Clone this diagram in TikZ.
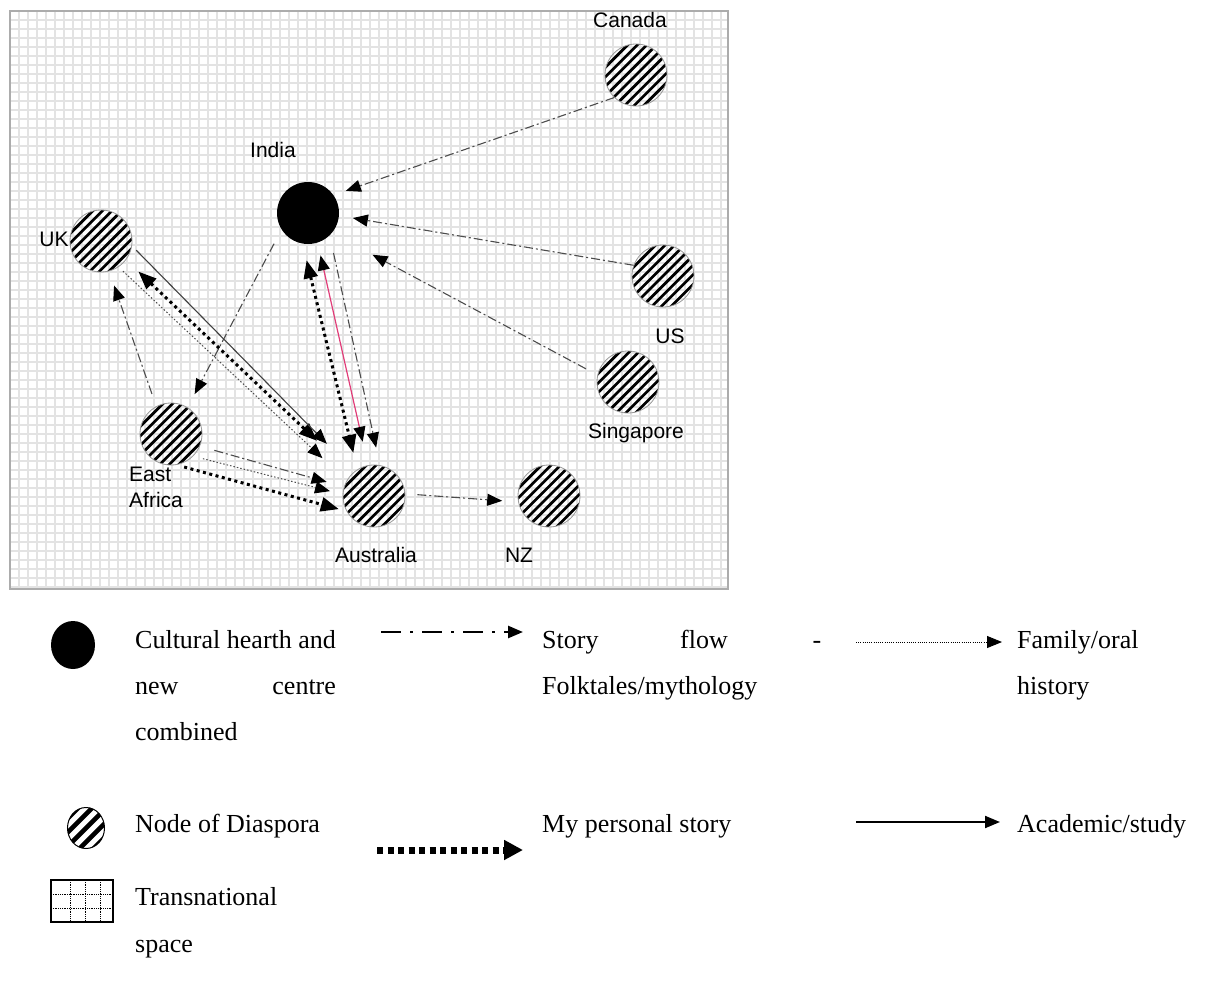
\documentclass[tikz,border=0pt]{standalone}
\usepackage{fontspec}
\usepackage{xcolor}
\usetikzlibrary{arrows.meta,shapes.geometric}
\newfontfamily\legfont{Liberation Serif}
\newfontfamily\lblfont{Liberation Sans}
\definecolor{gridgray}{gray}{0.89}
\definecolor{redlink}{RGB}{225,60,120}

\tikzset{
  stripes/.style 2 args={path picture={
    \foreach \s in {-6,...,6}
      \draw[black, line width=#2]
        ([shift={({\s*#1},0)}]path picture bounding box.center) ++(-45pt,-45pt) -- ++(90pt,90pt);}},
  diaspora/.style={circle, minimum size=62pt, inner sep=0pt, draw=gray!80, line width=0.8pt,
    stripes={9.6}{2.7pt}},
  hearth/.style={circle, minimum size=62pt, inner sep=0pt, fill=black},
  place/.style={font=\lblfont\fontsize{21}{26}\selectfont, inner sep=0pt},
  legtext/.style={font=\legfont\fontsize{26}{30}\selectfont, inner sep=0pt, anchor=base west},
  smalltip/.style={-{Triangle[length=15pt,width=12pt,color=black]}},
  story/.style={smalltip, black!70, line width=1.1pt, dash pattern=on 9pt off 3pt on 2pt off 3pt},
  family/.style={smalltip, black!70, line width=1pt, dash pattern=on 1.5pt off 2pt},
  personal/.style={{Triangle[length=18pt,width=14pt]}-{Triangle[length=18pt,width=14pt]},
    black, line width=3pt, dash pattern=on 3pt off 3.5pt},
  academic/.style={smalltip, black!75, line width=1.1pt},
  redline/.style={{Triangle[length=15pt,width=12pt,color=black]}-{Triangle[length=15pt,width=12pt,color=black]},
    redlink, line width=1.2pt},
  keytip/.style={-{Triangle[length=15pt,width=12pt]}},
}

\begin{document}
\begin{tikzpicture}[x=1pt, y=-1pt]
  \useasboundingbox (0,0) rectangle (1205,985);

  % transnational space
  \foreach \gx in {19,28,...,727}
    \draw[gridgray, line width=1.3pt] (\gx,11) -- (\gx,589);
  \foreach \gy in {20,29,...,588}
    \draw[gridgray, line width=1.3pt] (10,\gy) -- (728,\gy);
  \draw[gray!65, line width=2.5pt] (10,11) rectangle (728,589);

  % places
  \node[hearth]   (india)   at (308,213) {};
  \node[diaspora] (uk)      at (101,241) {};
  \node[diaspora] (canada)  at (636,75)  {};
  \node[diaspora] (us)      at (663,276) {};
  \node[diaspora] (sing)    at (628,382) {};
  \node[diaspora] (eafrica) at (171,434) {};
  \node[diaspora] (aus)     at (374,496) {};
  \node[diaspora] (nz)      at (549,496) {};

  \node[place] (indialbl)  at (273,150) {India};
  \node[place] (uklbl)     at (54,239)  {UK};
  \node[place] (canadalbl) at (630,20)  {Canada};
  \node[place] (uslbl)     at (670,336) {US};
  \node[place] (singlbl)   at (636,433) {Singapore};
  \node[place, align=left, anchor=north west] (ealbl) at (129,467) {East\\Africa};
  \node[place] (auslbl)    at (376,555) {Australia};
  \node[place] (nzlbl)     at (519,555) {NZ};

  % story flows
  \draw[story, shorten >=13pt] (canada.226) -- (india.35);
  \draw[story, shorten >=14pt] (us.160) -- (india.355);
  \draw[story, shorten <=13pt, shorten >=46pt] (sing.167) -- (india.320);
  \draw[story, shorten <=16pt, shorten >=15pt] (india.212) -- (eafrica.58);
  \draw[story, shorten <=18pt, shorten >=18pt] (india.314) -- (aus.79);
  \draw[story, shorten <=13pt, shorten >=15pt] (eafrica.118) -- (uk.285);
  \draw[story, shorten <=15pt, shorten >=18pt] (eafrica.337) -- (aus.163);
  \draw[story, shorten <=12pt, shorten >=16pt] (aus.4) -- (nz.191);

  % family, personal and study links
  \draw[family, shorten <=6pt, shorten >=33pt] (uk.304) -- (aus.151);
  \draw[family, shorten <=10pt, shorten >=13pt] (eafrica.315) -- (aus.177);
  \draw[personal, shorten <=17pt, shorten >=17pt] (india.260) -- (aus.122);
  \draw[personal, shorten <=17pt, shorten >=48pt] (uk.323) -- (aus.135);
  \draw[personal, -{Triangle[length=18pt,width=14pt]}, shorten <=8pt, shorten >=8pt]
    (eafrica.280) -- (aus.209);
  \draw[academic, shorten <=6pt, shorten >=39pt] (uk.351) -- (aus.129);
  \draw[redline, shorten <=24pt, shorten >=13pt] (aus.101) -- (india.288);

  % key
  \node[ellipse, fill=black, minimum width=44pt, minimum height=48pt, inner sep=0pt]
    (hearthkey) at (73,645) {};
  \node[legtext] (hearthA) at (135,648) {Cultural hearth and};
  \node[legtext] (hearthB) at (135,694) {new};
  \node[legtext, anchor=base east] (hearthC) at (hearthA.east |- hearthB.base) {centre};
  \node[legtext] (hearthD) at (135,740) {combined};

  \node[ellipse, draw=black, line width=1pt, minimum width=37pt, minimum height=41pt,
    inner sep=0pt, stripes={14}{4.6pt}]
    (diasporakey) at (86,828) {};
  \node[legtext] (diasporatxt) at (135,832) {Node of Diaspora};

  \node[draw, line width=1.5pt, minimum width=62pt, minimum height=42pt, inner sep=0pt]
    (spacekey) at (82,901) {};
  \foreach \kx in {70,85,100}
    \draw[densely dotted, line width=0.8pt] (\kx,880) -- (\kx,922);
  \foreach \ky in {894,908}
    \draw[densely dotted, line width=0.8pt] (51,\ky) -- (113,\ky);
  \node[legtext] (spaceA) at (135,905) {Transnational};
  \node[legtext] (spaceB) at (135,952) {space};

  \coordinate (storyS) at (381,632);
  \coordinate (storyE) at (523,632);
  \draw[keytip, line width=2.6pt, dash pattern=on 20pt off 9pt on 3pt off 9pt] (storyS) -- (storyE);
  \node[legtext] (storyA) at (542,648) {Story};
  \node[legtext, anchor=base] (storyB) at (704,648) {flow};
  \node[legtext, anchor=base] (storyC) at (817,648) {-};
  \node[legtext] (storyD) at (542,694) {Folktales/mythology};

  \coordinate (personalS) at (377,850);
  \coordinate (personalE) at (523,850);
  \draw[-{Triangle[length=19pt,width=19pt]}, line width=7pt, dash pattern=on 6pt off 4.5pt]
    (personalS) -- (personalE);
  \node[legtext] (personaltxt) at (542,832) {My personal story};

  \coordinate (familyS) at (856,642);
  \coordinate (familyE) at (1002,642);
  \draw[keytip, line width=0.9pt, dash pattern=on 1pt off 1.2pt] (familyS) -- (familyE);
  \node[legtext] (familyA) at (1017,648) {Family/oral};
  \node[legtext] (familyB) at (1017,694) {history};

  \coordinate (studyS) at (856,822);
  \coordinate (studyE) at (1000,822);
  \draw[keytip, line width=2pt] (studyS) -- (studyE);
  \node[legtext] (studytxt) at (1017,832) {Academic/study};
\end{tikzpicture}
\end{document}
